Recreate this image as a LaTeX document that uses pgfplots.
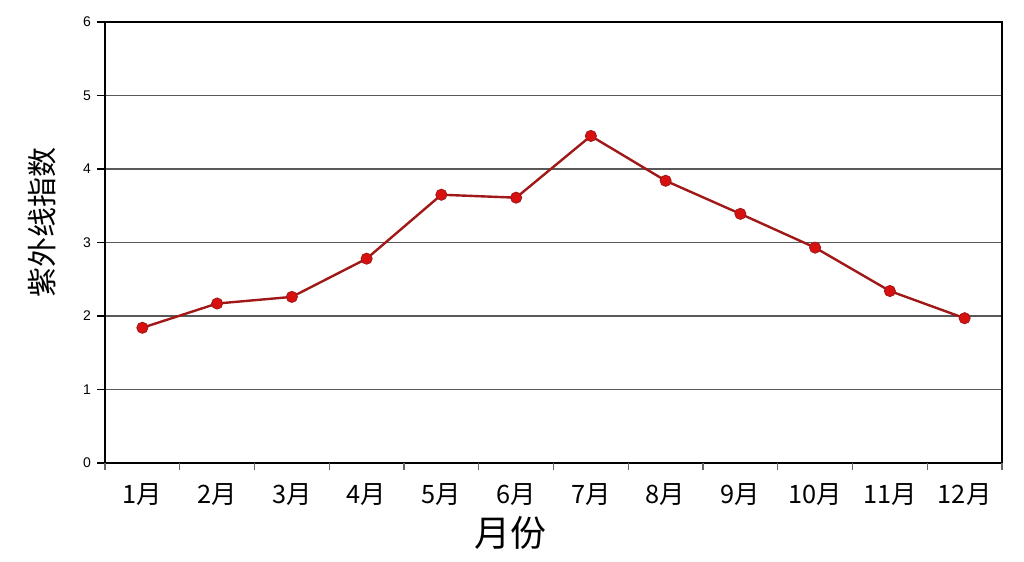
\documentclass[border=0pt]{standalone}
\usepackage{pgfplots}
\pgfplotsset{compat=1.18}
\usepackage{fontspec}
\setmainfont{Liberation Sans}
\newfontfamily\cjk{Noto Sans CJK SC}
\definecolor{lineC}{HTML}{A01818}
\definecolor{markC}{HTML}{D81010}
\begin{document}
\begin{tikzpicture}
\path[use as bounding box] (-78.75pt,-73.5pt) rectangle (689.25pt,347.25pt);
\begin{axis}[
  scale only axis,
  width=672.75pt, height=330.75pt,
  xmin=0.5, xmax=12.5, ymin=0, ymax=6,
  axis line style={black, line width=1.2pt},
  tick pos=left,
  ytick={0,1,2,3,4,5,6},
  ymajorgrids,
  grid style={black!65, line width=0.8pt},
  tick align=outside,
  major tick length=6pt,
  ytick style={black, line width=0.9pt},
  yticklabel style={font=\fontsize{10.5}{12}\selectfont, xshift=-1pt},
  /pgf/number format/assume math mode=true,
  xtick={1,...,12},
  xticklabels={1月,2月,3月,4月,5月,6月,7月,8月,9月,10月,11月,12月},
  xticklabel style={font=\cjk\fontsize{19}{22}\selectfont, yshift=-6pt},
  xtick style={draw=none},
  extra x ticks={0.5,1.5,...,12.5},
  extra x tick labels={},
  extra x tick style={xtick style={draw=black!60, line width=1pt}, major tick length=5pt, grid=none, tick pos=left},
  xlabel={月份},
  xlabel style={font=\cjk\fontsize{27}{30}\selectfont, at={(axis description cs:0.452,0)}, anchor=center, yshift=-52.5pt},
  ylabel={紫外线指数},
  ylabel style={font=\cjk\fontsize{22.5}{24}\selectfont, at={(axis description cs:-0.0699,0.546)}, anchor=center},
]
\addplot[color=lineC, line width=1.8pt, mark=*, mark size=4.2pt, mark options={fill=markC, draw=lineC, line width=0.6pt}]
coordinates {(1,1.84) (2,2.17) (3,2.26) (4,2.78) (5,3.65) (6,3.61) (7,4.45) (8,3.84) (9,3.39) (10,2.93) (11,2.34) (12,1.97)};
\end{axis}
\end{tikzpicture}
\end{document}
